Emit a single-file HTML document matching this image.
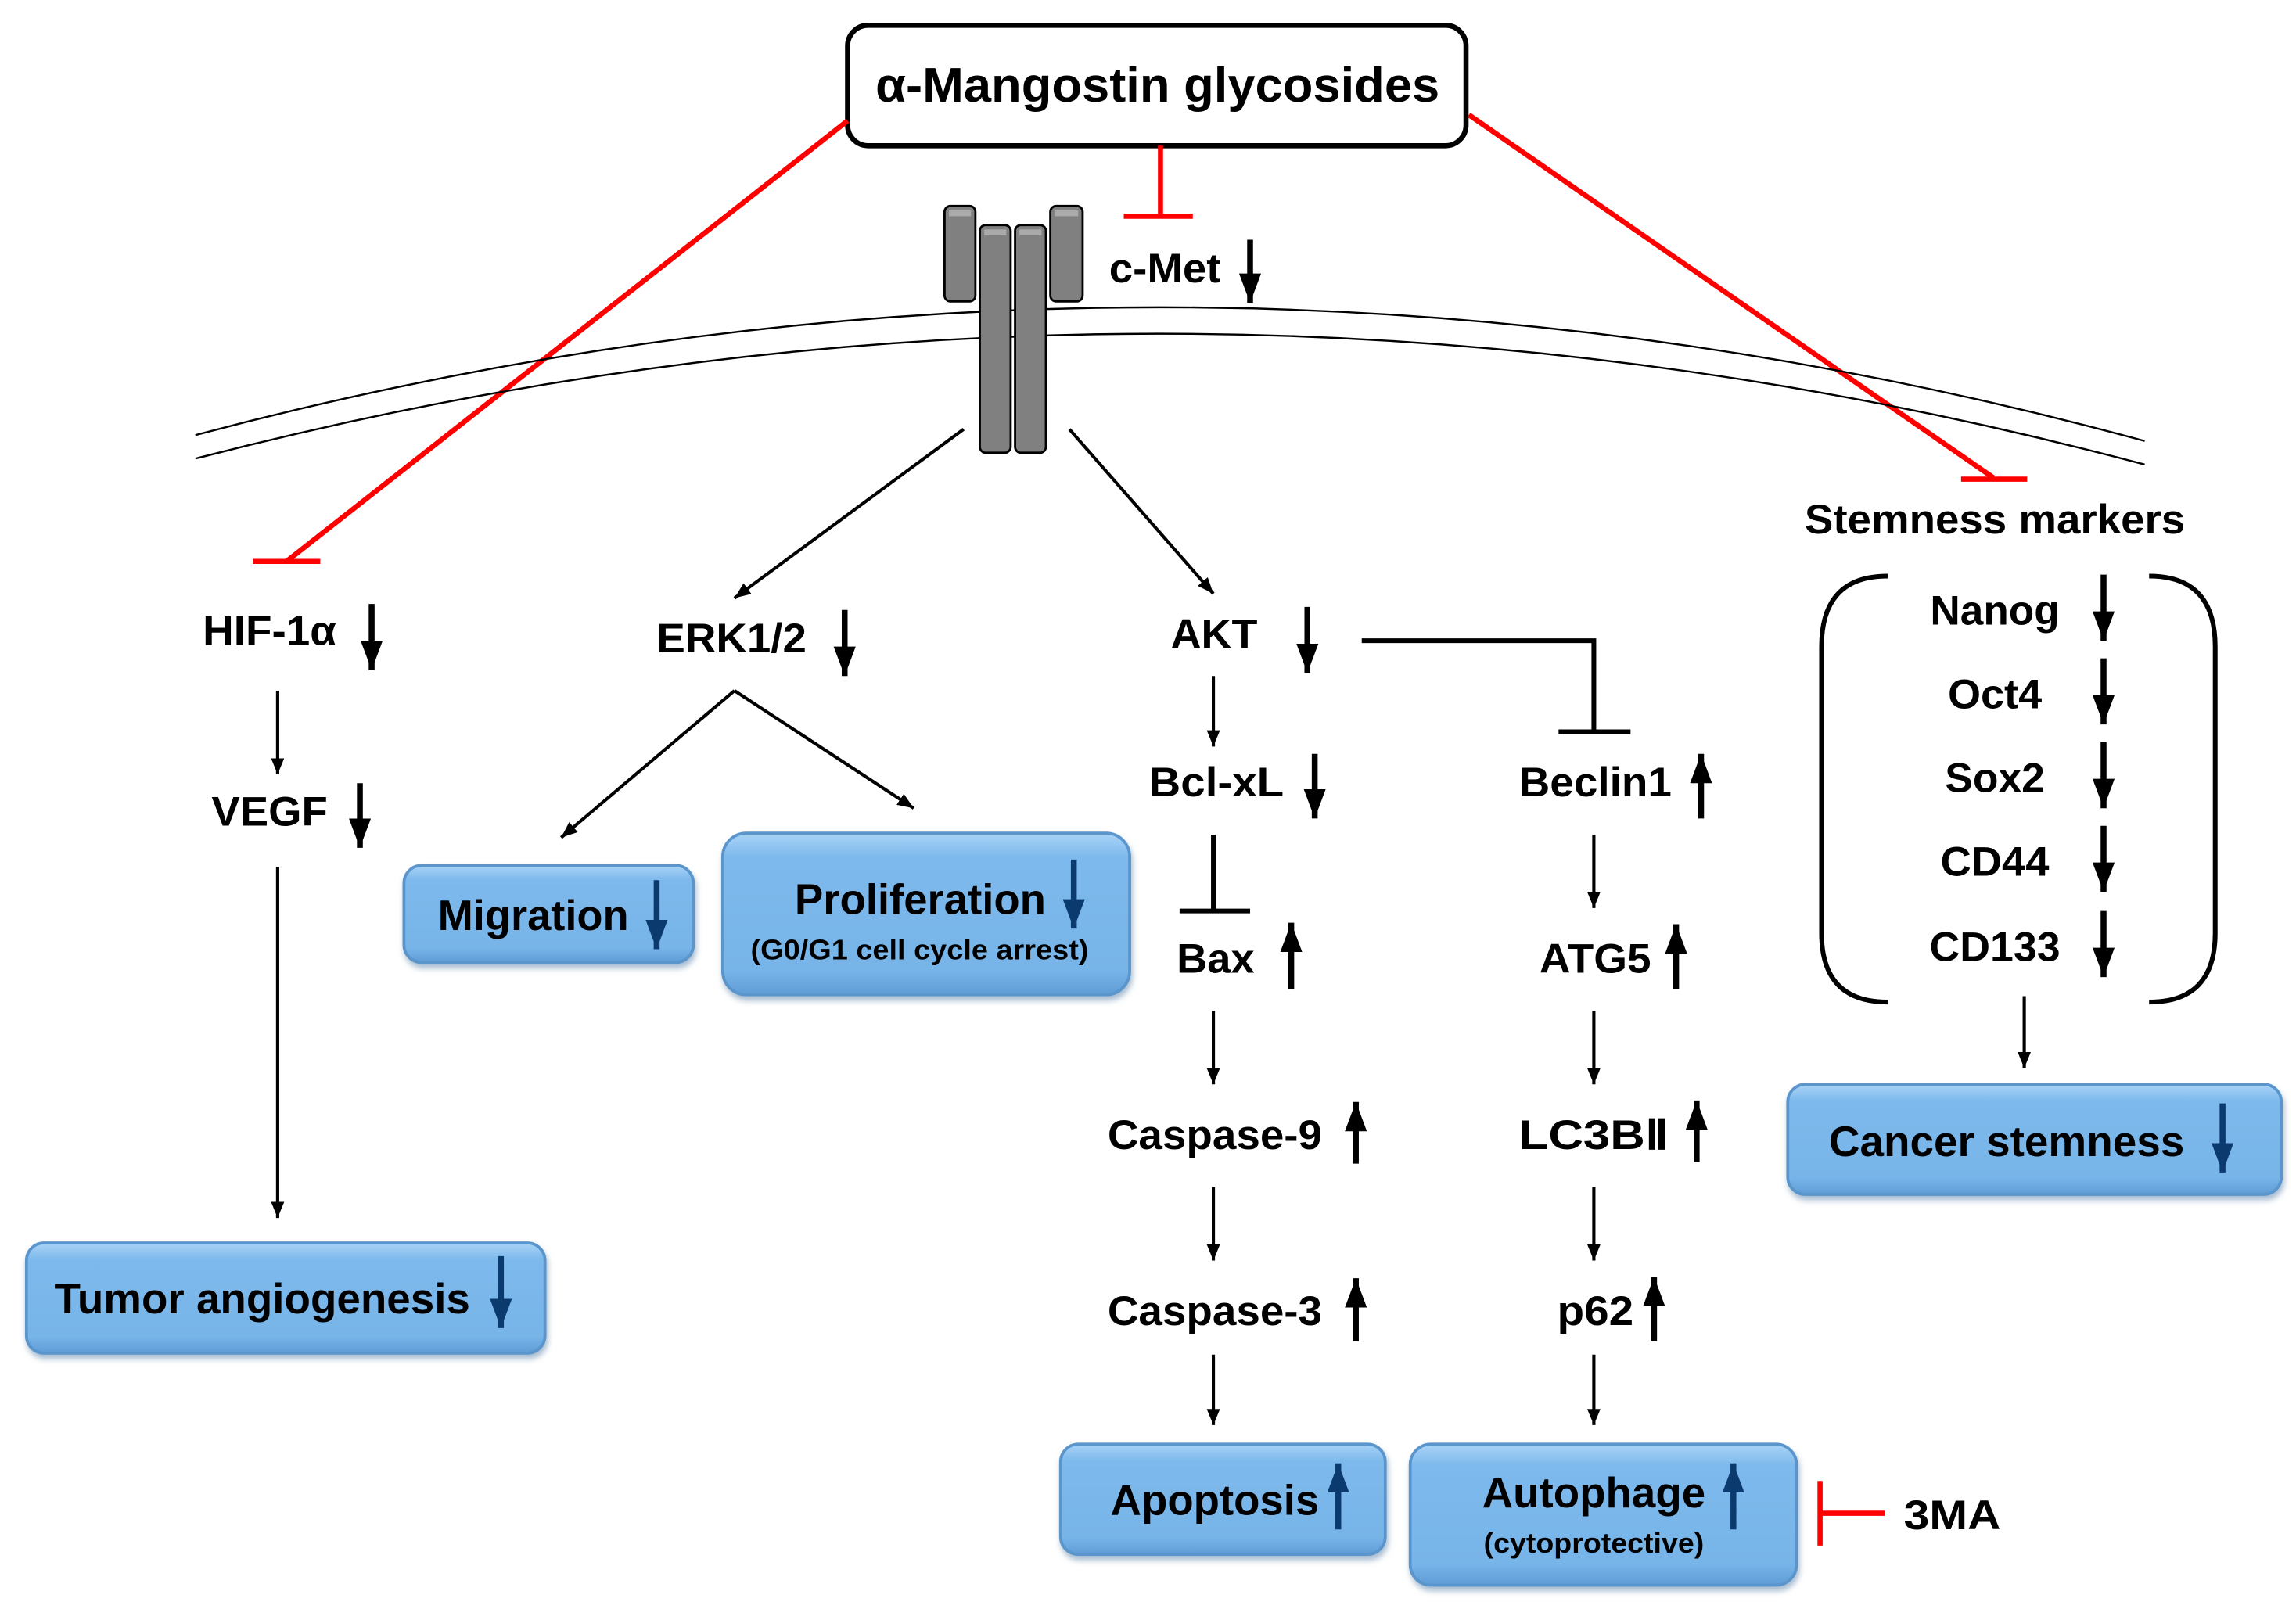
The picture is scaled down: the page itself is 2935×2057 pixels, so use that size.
<!DOCTYPE html>
<html><head><meta charset="utf-8">
<style>
html,body{margin:0;padding:0;background:#fff;}
svg{display:block;}
text{font-family:"Liberation Sans",Arial,sans-serif;font-weight:bold;fill:#000;}
</style></head>
<body>
<svg width="2935" height="2057" viewBox="0 0 1563 1095" xmlns="http://www.w3.org/2000/svg">
<defs>
<marker id="bh" markerUnits="userSpaceOnUse" markerWidth="20" markerHeight="15" refX="20" refY="7.5" orient="auto" viewBox="0 0 20 15"><path d="M0,0 L20,7.5 L0,15 Z" fill="#000"/></marker>
<marker id="nh" markerUnits="userSpaceOnUse" markerWidth="20" markerHeight="15" refX="20" refY="7.5" orient="auto" viewBox="0 0 20 15"><path d="M0,0 L20,7.5 L0,15 Z" fill="#0b3a6e"/></marker>
<marker id="th" markerUnits="userSpaceOnUse" markerWidth="11" markerHeight="10" refX="11" refY="4.5" orient="auto" viewBox="0 0 11 9"><path d="M0,0 L11,4.5 L0,9 Z" fill="#000"/></marker>
<linearGradient id="bg" x1="0" y1="0" x2="0" y2="1">
<stop offset="0" stop-color="#a9d3f6"/><stop offset="0.15" stop-color="#7db9ec"/><stop offset="0.85" stop-color="#77b4e8"/><stop offset="1" stop-color="#5f9cd6"/>
</linearGradient>
<filter id="sh" x="-10%" y="-10%" width="120%" height="130%"><feDropShadow dx="1" dy="3" stdDeviation="2" flood-color="#6a8db0" flood-opacity="0.6"/></filter>
</defs>

<rect x="577" y="17" width="421" height="82" rx="14" fill="#fff" stroke="#000" stroke-width="3.5"/>
<text x="788" y="69" font-size="33" text-anchor="middle" textLength="384" lengthAdjust="spacingAndGlyphs">α-Mangostin glycosides</text>

<g stroke="#f00" stroke-width="3.5" fill="none">
<line x1="577" y1="82" x2="195" y2="382"/><line x1="172" y1="382" x2="218" y2="382"/>
<line x1="1000" y1="78" x2="1357" y2="325"/><line x1="1335" y1="326" x2="1380" y2="326"/>
<line x1="790" y1="99" x2="790" y2="147"/><line x1="765" y1="147" x2="812" y2="147"/>
<line x1="1239" y1="1008" x2="1239" y2="1052"/><line x1="1239" y1="1030" x2="1283" y2="1030"/>
</g>

<path d="M133,296 Q797,120 1460,300" fill="none" stroke="#000" stroke-width="1.3"/>
<path d="M133,312 Q797,140 1460,316" fill="none" stroke="#000" stroke-width="1.3"/>

<g fill="#808080" stroke="#000" stroke-width="1.5">
<rect x="643" y="140" width="21" height="65" rx="4"/>
<rect x="715" y="140" width="22" height="65" rx="4"/>
<rect x="667" y="153" width="21" height="155" rx="4"/>
<rect x="691" y="153" width="21" height="155" rx="4"/>
</g>
<g fill="#aaa"><rect x="646" y="143" width="15" height="4"/><rect x="718" y="143" width="16" height="4"/><rect x="670" y="156" width="15" height="4"/><rect x="694" y="156" width="15" height="4"/></g>

<g stroke="#000" stroke-width="4">
<line x1="851" y1="163" x2="851" y2="206" marker-end="url(#bh)"/>
<line x1="253" y1="411" x2="253" y2="456" marker-end="url(#bh)"/>
<line x1="245" y1="533" x2="245" y2="577" marker-end="url(#bh)"/>
<line x1="575" y1="415" x2="575" y2="460" marker-end="url(#bh)"/>
<line x1="890" y1="413" x2="890" y2="458" marker-end="url(#bh)"/>
<line x1="895" y1="513" x2="895" y2="557" marker-end="url(#bh)"/>
<line x1="879" y1="673" x2="879" y2="628" marker-end="url(#bh)"/>
<line x1="923" y1="792" x2="923" y2="750" marker-end="url(#bh)"/>
<line x1="923" y1="913" x2="923" y2="870" marker-end="url(#bh)"/>
<line x1="1158" y1="557" x2="1158" y2="513" marker-end="url(#bh)"/>
<line x1="1141" y1="673" x2="1141" y2="629" marker-end="url(#bh)"/>
<line x1="1155" y1="791" x2="1155" y2="749" marker-end="url(#bh)"/>
<line x1="1126" y1="913" x2="1126" y2="869" marker-end="url(#bh)"/>
<line x1="1432" y1="391" x2="1432" y2="436" marker-end="url(#bh)"/>
<line x1="1432" y1="448" x2="1432" y2="493" marker-end="url(#bh)"/>
<line x1="1432" y1="505" x2="1432" y2="550" marker-end="url(#bh)"/>
<line x1="1432" y1="562" x2="1432" y2="607" marker-end="url(#bh)"/>
<line x1="1432" y1="620" x2="1432" y2="665" marker-end="url(#bh)"/>
</g>

<g stroke="#000" stroke-width="2.2" fill="none">
<line x1="656" y1="292" x2="500" y2="407" marker-end="url(#th)"/>
<line x1="728" y1="292" x2="826" y2="404" marker-end="url(#th)"/>
<line x1="189" y1="470" x2="189" y2="527" marker-end="url(#th)"/>
<line x1="189" y1="590" x2="189" y2="829" marker-end="url(#th)"/>
<line x1="500" y1="470" x2="382" y2="570" marker-end="url(#th)"/>
<line x1="500" y1="470" x2="622" y2="550" marker-end="url(#th)"/>
<line x1="826" y1="460" x2="826" y2="508" marker-end="url(#th)"/>
<line x1="826" y1="688" x2="826" y2="738" marker-end="url(#th)"/>
<line x1="826" y1="808" x2="826" y2="858" marker-end="url(#th)"/>
<line x1="826" y1="922" x2="826" y2="970" marker-end="url(#th)"/>
<line x1="1085" y1="568" x2="1085" y2="618" marker-end="url(#th)"/>
<line x1="1085" y1="688" x2="1085" y2="738" marker-end="url(#th)"/>
<line x1="1085" y1="808" x2="1085" y2="858" marker-end="url(#th)"/>
<line x1="1085" y1="922" x2="1085" y2="970" marker-end="url(#th)"/>
<line x1="1378" y1="678" x2="1378" y2="727" marker-end="url(#th)"/>
</g>
<g stroke="#000" stroke-width="3.2" fill="none">
<polyline points="927,436 1085,436 1085,498"/><line x1="1061" y1="498" x2="1110" y2="498"/>
<line x1="826" y1="568" x2="826" y2="620"/><line x1="803" y1="620" x2="851" y2="620"/>
<path d="M1285,392 Q1240,392 1240,440 L1240,635 Q1240,682 1285,682"/>
<path d="M1463,392 Q1508,392 1508,440 L1508,635 Q1508,682 1463,682"/>
</g>

<g font-size="28">
<text x="755" y="192" textLength="76" lengthAdjust="spacingAndGlyphs">c-Met</text>
<text x="138" y="439" textLength="91" lengthAdjust="spacingAndGlyphs">HIF-1α</text>
<text x="144" y="562" textLength="79" lengthAdjust="spacingAndGlyphs">VEGF</text>
<text x="447" y="444" textLength="102" lengthAdjust="spacingAndGlyphs">ERK1/2</text>
<text x="797" y="441" textLength="59" lengthAdjust="spacingAndGlyphs">AKT</text>
<text x="782" y="542" textLength="92" lengthAdjust="spacingAndGlyphs">Bcl-xL</text>
<text x="801" y="662" textLength="53" lengthAdjust="spacingAndGlyphs">Bax</text>
<text x="754" y="782" textLength="146" lengthAdjust="spacingAndGlyphs">Caspase-9</text>
<text x="754" y="902" textLength="146" lengthAdjust="spacingAndGlyphs">Caspase-3</text>
<text x="1034" y="542" textLength="104" lengthAdjust="spacingAndGlyphs">Beclin1</text>
<text x="1048" y="662" textLength="76" lengthAdjust="spacingAndGlyphs">ATG5</text>
<text x="1034" y="782" textLength="102" lengthAdjust="spacingAndGlyphs">LC3BⅡ</text>
<text x="1060" y="902" textLength="52" lengthAdjust="spacingAndGlyphs">p62</text>
<text x="1358" y="363" text-anchor="middle" textLength="259" lengthAdjust="spacingAndGlyphs">Stemness markers</text>
<text x="1358" y="425" text-anchor="middle" textLength="88" lengthAdjust="spacingAndGlyphs">Nanog</text>
<text x="1358" y="482" text-anchor="middle" textLength="64" lengthAdjust="spacingAndGlyphs">Oct4</text>
<text x="1358" y="539" text-anchor="middle" textLength="68" lengthAdjust="spacingAndGlyphs">Sox2</text>
<text x="1358" y="596" text-anchor="middle" textLength="74" lengthAdjust="spacingAndGlyphs">CD44</text>
<text x="1358" y="654" text-anchor="middle" textLength="89" lengthAdjust="spacingAndGlyphs">CD133</text>
<text x="1296" y="1041" textLength="66" lengthAdjust="spacingAndGlyphs">3MA</text>
</g>

<g fill="url(#bg)" stroke="#5a95cc" stroke-width="2" filter="url(#sh)">
<rect x="275" y="589" width="197" height="66" rx="12"/>
<rect x="492" y="567" width="277" height="110" rx="16"/>
<rect x="18" y="846" width="353" height="75" rx="12"/>
<rect x="722" y="983" width="221" height="75" rx="12"/>
<rect x="960" y="983" width="263" height="96" rx="14"/>
<rect x="1217" y="738" width="336" height="75" rx="12"/>
</g>
<g font-size="29">
<text x="298" y="633" textLength="130" lengthAdjust="spacingAndGlyphs">Migration</text>
<text x="541" y="622" textLength="171" lengthAdjust="spacingAndGlyphs">Proliferation</text>
<text x="37" y="894" textLength="283" lengthAdjust="spacingAndGlyphs">Tumor angiogenesis</text>
<text x="756" y="1031" textLength="142" lengthAdjust="spacingAndGlyphs">Apoptosis</text>
<text x="1085" y="1026" text-anchor="middle" textLength="152" lengthAdjust="spacingAndGlyphs">Autophage</text>
<text x="1245" y="787" textLength="242" lengthAdjust="spacingAndGlyphs">Cancer stemness</text>
</g>
<text x="626" y="653" font-size="19" text-anchor="middle" textLength="230" lengthAdjust="spacingAndGlyphs">(G0/G1 cell cycle arrest)</text>
<text x="1085" y="1057" font-size="19" text-anchor="middle" textLength="150" lengthAdjust="spacingAndGlyphs">(cytoprotective)</text>
<g stroke="#0b3a6e" stroke-width="4">
<line x1="447" y1="599" x2="447" y2="646" marker-end="url(#nh)"/>
<line x1="731" y1="585" x2="731" y2="632" marker-end="url(#nh)"/>
<line x1="341" y1="855" x2="341" y2="904" marker-end="url(#nh)"/>
<line x1="911" y1="1041" x2="911" y2="996" marker-end="url(#nh)"/>
<line x1="1180" y1="1041" x2="1180" y2="996" marker-end="url(#nh)"/>
<line x1="1513" y1="751" x2="1513" y2="798" marker-end="url(#nh)"/>
</g>
</svg>
</body></html>
